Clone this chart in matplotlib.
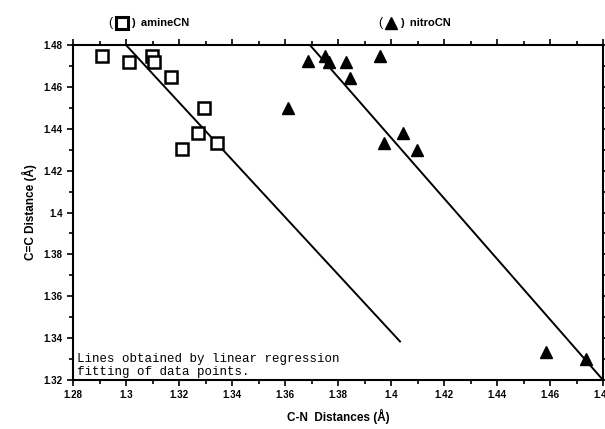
import numpy as np
import matplotlib
matplotlib.use('Agg')
import matplotlib.pyplot as plt
from matplotlib.ticker import MultipleLocator, FormatStrFormatter

# C-N vs C=C distances
amine_cn = [1.2908, 1.3011, 1.3097, 1.3106, 1.3169, 1.3295, 1.3272, 1.3212, 1.3343]
amine_cc = [1.4747, 1.4720, 1.4747, 1.4720, 1.4645, 1.4500, 1.4378, 1.4301, 1.4333]

nitro_cn = [1.3688, 1.3751, 1.3767, 1.3830, 1.3845, 1.3958, 1.3612, 1.4046, 1.3975,
            1.4097, 1.4585, 1.4736]
nitro_cc = [1.4725, 1.4747, 1.4720, 1.4717, 1.4641, 1.4747, 1.4497, 1.4378, 1.4333,
            1.4298, 1.3332, 1.3301]

# regression lines, as drawn (end points)
amine_fit_x = [1.3000, 1.4034]
amine_fit_y = [1.4800, 1.3384]
nitro_fit_x = [1.3694, 1.4800]
nitro_fit_y = [1.4800, 1.3200]

plt.rcParams['font.family'] = ['Liberation Sans', 'DejaVu Sans']

fig = plt.figure(figsize=(6.05, 4.29), dpi=100)
ax = fig.add_axes([0.1207, 0.1142, 0.876, 0.7809])

ax.plot(amine_fit_x, amine_fit_y, color='black', lw=1.4)
ax.plot(nitro_fit_x, nitro_fit_y, color='black', lw=1.4)

ax.plot(amine_cn, amine_cc, ls='none', marker='s', ms=8, mfc='white',
        mec='black', mew=1.8, clip_on=False)
ax.plot(nitro_cn, nitro_cc, ls='none', marker='^', ms=8, color='black', clip_on=False)

ax.set_xlim(1.28, 1.48)
ax.set_ylim(1.32, 1.48)
ax.xaxis.set_major_locator(MultipleLocator(0.02))
ax.xaxis.set_minor_locator(MultipleLocator(0.01))
ax.yaxis.set_major_locator(MultipleLocator(0.02))
ax.yaxis.set_minor_locator(MultipleLocator(0.01))
ax.xaxis.set_major_formatter(FormatStrFormatter('%g'))
ax.yaxis.set_major_formatter(FormatStrFormatter('%g'))
ax.tick_params(which='both', direction='out', top=True, right=True,
               labelsize=7, width=1.2)
ax.tick_params(which='major', length=4)
ax.tick_params(which='minor', length=3)
for lab in ax.get_xticklabels() + ax.get_yticklabels():
    lab.set_fontweight('bold')
for sp in ax.spines.values():
    sp.set_linewidth(1.5)

ax.set_xlabel('C-N  Distances (Å)', fontsize=8.5, fontweight='bold', labelpad=6)
ax.set_ylabel('C=C Distance (Å)', fontsize=8.5, fontweight='bold', labelpad=5)

# legend-like labels above the frame
ax.text(0.071, 1.065, '(', transform=ax.transAxes, fontsize=9, va='center', ha='center')
ax.plot([0.0925], [1.067], transform=ax.transAxes, marker='s', ms=8, mfc='white',
        mec='black', mew=2.2, clip_on=False)
ax.text(0.11, 1.065, ')  amineCN', transform=ax.transAxes, fontsize=8,
        fontweight='bold', va='center', ha='left')

ax.text(0.58, 1.065, '(', transform=ax.transAxes, fontsize=9, va='center', ha='center')
ax.plot([0.6, ], [1.067], transform=ax.transAxes, marker='^', ms=8, color='black',
        clip_on=False)
ax.text(0.617, 1.065, ')  nitroCN', transform=ax.transAxes, fontsize=8,
        fontweight='bold', va='center', ha='left')

ax.text(0.008, 0.006, 'Lines obtained by linear regression\nfitting of data points.',
        transform=ax.transAxes, family=['Liberation Mono', 'DejaVu Sans Mono'],
        fontsize=9, va='bottom', ha='left', linespacing=1.1)

fig.savefig('out.png', dpi=100)
